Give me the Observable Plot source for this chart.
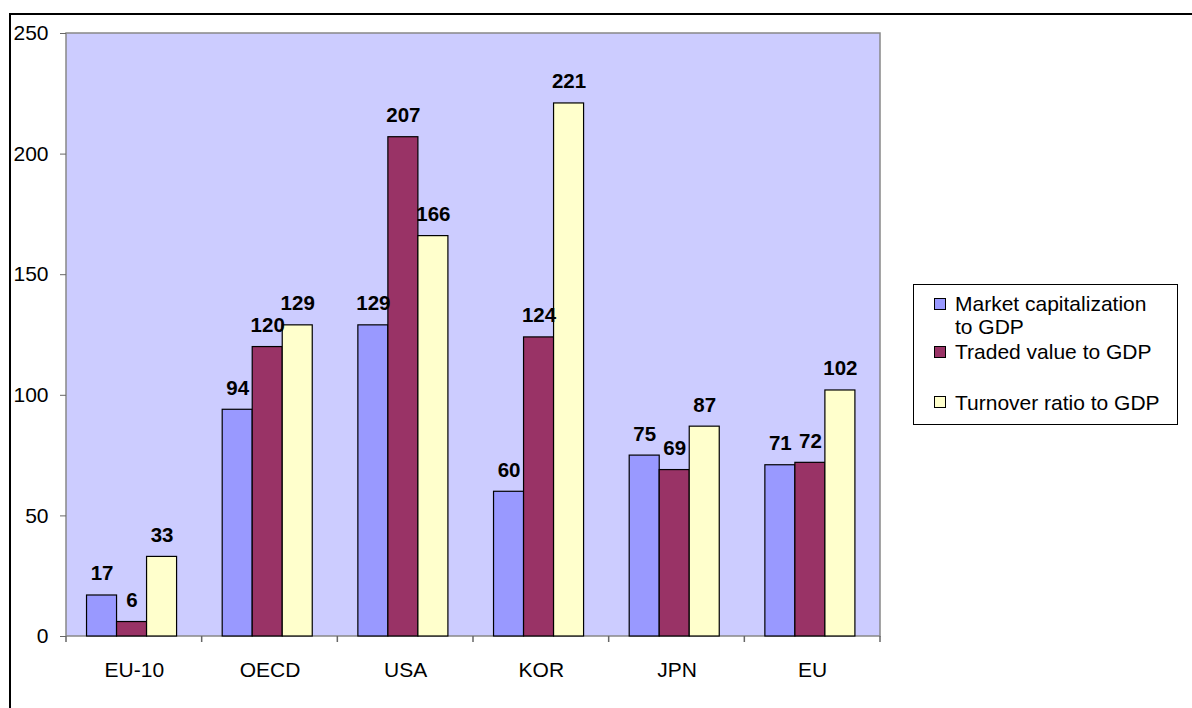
<!DOCTYPE html>
<html>
<head>
<meta charset="utf-8">
<script src="https://cdn.jsdelivr.net/npm/d3@7"></script>
<script src="https://cdn.jsdelivr.net/npm/@observablehq/plot@0.6"></script>
<style>
  body { margin: 0; background: #fff; font-family: "Liberation Sans", Arial, sans-serif; }
  #wrap { position: relative; width: 1192px; height: 708px; overflow: hidden; background: #fff; }
  #border { position: absolute; left: 9px; top: 13px; width: 1300px; height: 900px;
            border-left: 2px solid #000; border-top: 2px solid #000; }
  #chart { position: absolute; left: 0; top: 0; }
  #legend { position: absolute; left: 0; top: 0; pointer-events: none; }
</style>
</head>
<body>
<div id="wrap">
  <div id="border"></div>
  <div id="chart"></div>
  <svg id="legend" width="1192" height="708"></svg>
</div>
<script>
const categories = ["EU-10", "OECD", "USA", "KOR", "JPN", "EU"];
const series = ["Market capitalization to GDP", "Traded value to GDP", "Turnover ratio to GDP"];
const marketCap = [17, 94, 129, 60, 75, 71];
const tradedValue = [6, 120, 207, 124, 69, 72];
const turnover = [33, 129, 166, 221, 87, 102];
const colors = ["#9999FF", "#993366", "#FFFFCC"];
const yTicks = [0, 50, 100, 150, 200, 250];

const valuesBySeries = [marketCap, tradedValue, turnover];
const data = [];
categories.forEach((c, i) => {
  series.forEach((s, j) => data.push({category: c, series: s, value: valuesBySeries[j][i]}));
});

const FONT = "'Liberation Sans', Arial, sans-serif";

const plot = Plot.plot({
  width: 1192,
  height: 708,
  marginLeft: 66,
  marginRight: 312,
  marginTop: 33,
  marginBottom: 72,
  style: {fontFamily: FONT, fontSize: "21px", color: "#000", background: "transparent", overflow: "visible"},
  fx: {domain: categories, padding: 0, label: null, tickSize: 0, tickPadding: 26, round: false},
  x: {domain: series, paddingInner: 0, paddingOuter: 0.76, align: 0.45, round: false, axis: null},
  y: {domain: [0, 250], ticks: yTicks, tickSize: 6, tickPadding: 12, label: null},
  color: {domain: series, range: colors},
  marks: [
    Plot.barY(data, {fx: "category", x: "series", y: "value", fill: "series", stroke: "#000", strokeWidth: 1.2}),
    Plot.text(data, {fx: "category", x: "series", y: "value", text: d => String(d.value),
      dy: -15, lineAnchor: "bottom", fontWeight: "bold", fontSize: 20.5, fill: "#000"})
  ]
});

document.getElementById("chart").appendChild(plot);

// plot area background and border, derived from the scales
const svg = d3.select(plot);
const fx = plot.scale("fx");
const y = plot.scale("y");
const x0 = fx.range[0], x1 = fx.range[1];
const yTop = Math.min(...y.range), yBot = Math.max(...y.range);
svg.insert("rect", "g")
  .attr("x", x0).attr("y", yTop).attr("width", x1 - x0).attr("height", yBot - yTop)
  .attr("fill", "#CCCCFF").attr("stroke", "#888").attr("stroke-width", 1.5);

// category boundary ticks on the x axis
const bounds = categories.map(c => fx.apply(c)).concat([fx.apply(categories[categories.length - 1]) + fx.bandwidth]);
svg.append("g").selectAll("line").data(bounds).join("line")
  .attr("x1", d => d).attr("x2", d => d).attr("y1", yBot).attr("y2", yBot + 6)
  .attr("stroke", "#666").attr("stroke-width", 1.5);

svg.selectAll('[aria-label="y-axis tick"] path, [aria-label="y-axis tick"]').attr("stroke", "#666");

// legend
const lg = d3.select("#legend");
lg.append("rect").attr("x", 913.5).attr("y", 284.5).attr("width", 264).attr("height", 140)
  .attr("fill", "#fff").attr("stroke", "#000").attr("stroke-width", 1);
const legendLines = [["Market capitalization", "to GDP"], ["Traded value to GDP"], ["Turnover ratio to GDP"]];
const swatchY = [298, 346, 396];
const textY = [[311, 334], [359], [410]];
series.forEach((s, i) => {
  lg.append("rect").attr("x", 934.5).attr("y", swatchY[i] + 0.5).attr("width", 11).attr("height", 11)
    .attr("fill", colors[i]).attr("stroke", "#000").attr("stroke-width", 1);
  legendLines[i].forEach((t, k) => {
    lg.append("text").attr("x", 955).attr("y", textY[i][k]).text(t)
      .attr("font-family", FONT).attr("font-size", 21).attr("fill", "#000");
  });
});
</script>
</body>
</html>
